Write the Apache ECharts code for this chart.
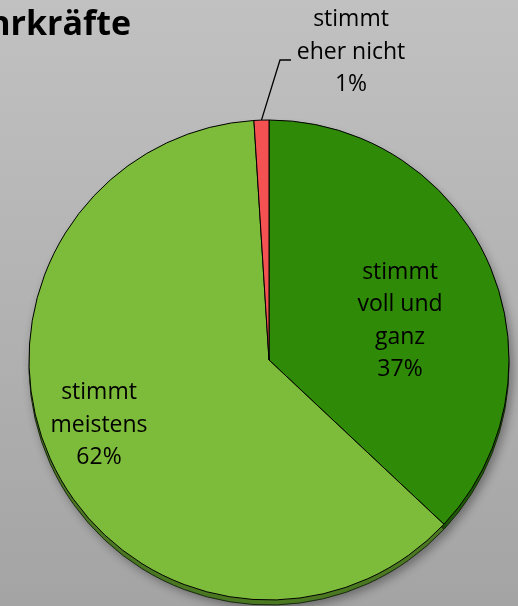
<!DOCTYPE html>
<html>
<head>
<meta charset="utf-8">
<script src="https://cdn.jsdelivr.net/npm/echarts@6/dist/echarts.min.js"></script>
<style>
html,body{margin:0;padding:0;width:518px;height:606px;overflow:hidden;}
#chart{width:518px;height:606px;}
</style>
</head>
<body>
<div id="chart"></div>
<script>
const titleText = 'Lehrkräfte';
const categories = ['stimmt voll und ganz', 'stimmt meistens', 'stimmt eher nicht'];
const labelTexts = ['stimmt\nvoll und\nganz', 'stimmt\nmeistens', 'stimmt\neher nicht'];
const values = [37, 62, 1];
const colors = ['#2E8A07', '#7DBB3A', '#F45252'];
const rimColors = ['#1E5A05', '#4C7A22', '#9E3030'];

const labelPos = [[400, 321], [99, 425], [351, 52]];

const chart = echarts.init(document.getElementById('chart'), null, {renderer: 'canvas'});
const FONT = '"Open Sans", "Noto Sans", sans-serif';

const mainData = categories.map((c, i) => {
  const item = {name: c, value: values[i], itemStyle: {color: colors[i]}};
  if (i === 2) {
    item.label = {position: 'outside'};
    item.labelLine = {show: true, length: 20, length2: 10, lineStyle: {color: '#000', width: 1.3}};
  }
  return item;
});
const rimData = categories.map((c, i) => ({name: c, value: values[i], itemStyle: {color: rimColors[i]}}));

chart.setOption({
  animation: false,
  backgroundColor: {
    type: 'linear', x: 0, y: 0, x2: 0, y2: 1,
    colorStops: [{offset: 0, color: '#C1C1C1'}, {offset: 1, color: '#A4A4A4'}]
  },
  graphic: [{
    type: 'text',
    style: {
      text: titleText, x: 131, y: 8, textAlign: 'right', textVerticalAlign: 'top',
      font: 'bold 34px ' + FONT, fill: '#000'
    }
  }],
  series: [
    {
      type: 'pie', silent: true, z: 1,
      center: [269, 365], radius: 240,
      startAngle: 90, clockwise: true,
      label: {show: false}, labelLine: {show: false},
      itemStyle: {borderColor: '#1a2a10', borderWidth: 1, shadowBlur: 10, shadowColor: 'rgba(0,0,0,0.35)', shadowOffsetX: 3, shadowOffsetY: 3},
      data: rimData
    },
    {
      type: 'pie', z: 2,
      center: [269, 360], radius: 240,
      startAngle: 90, clockwise: true,
      itemStyle: {borderColor: '#000', borderWidth: 1},
      emphasis: {disabled: true},
      label: {
        show: true, position: 'inside',
        fontFamily: FONT, fontSize: 23, color: '#000', lineHeight: 32.5, align: 'center',
        formatter: p => labelTexts[p.dataIndex] + '\n' + p.value + '%'
      },
      labelLine: {show: false},
      labelLayout: function (params) {
        const i = params.dataIndex;
        const res = {x: labelPos[i][0], y: labelPos[i][1], align: 'center', verticalAlign: 'middle'};
        if (i === 2 && params.labelLinePoints) {
          const s = params.labelLinePoints[0];
          res.labelLinePoints = [s, [280, 60], [291, 60]];
        }
        return res;
      },
      data: mainData
    }
  ]
});
</script>
</body>
</html>
